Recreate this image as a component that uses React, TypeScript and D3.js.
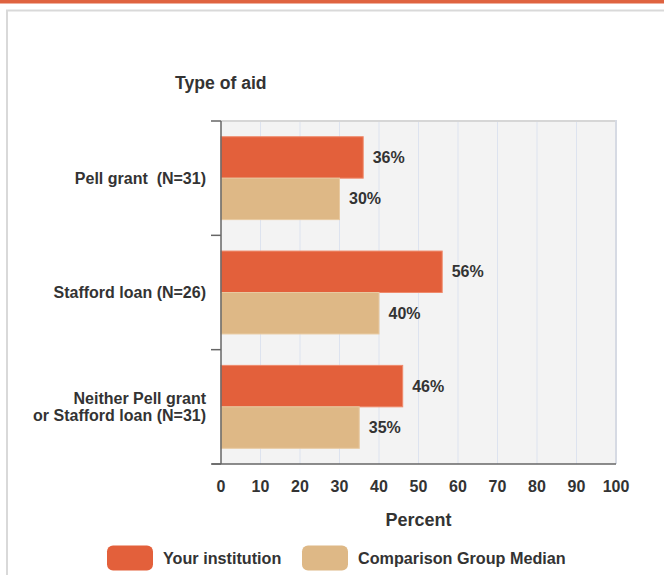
import React from 'react'
import { scaleLinear, scaleBand } from 'd3'

const categories = ['Pell grant  (N=31)', 'Stafford loan (N=26)', 'Neither Pell grant\nor Stafford loan (N=31)']
const seriesNames = ['Your institution', 'Comparison Group Median']
const yourInstitution = [36, 56, 46]
const comparisonMedian = [30, 40, 35]
const xTicks = [0, 10, 20, 30, 40, 50, 60, 70, 80, 90, 100]

const W = 664
const H = 575
const colors = ['#e3603b', '#deb886']
const font = '"Liberation Sans", Arial, sans-serif'
const textColor = '#333333'

const App = () => {
  const x = scaleLinear().domain([0, 100]).range([221, 616])
  const y = scaleBand<string>()
    .domain(categories)
    .range([121, 464])
    .paddingInner(0.275)
    .paddingOuter(0.1375)
  const inner = scaleBand<string>()
    .domain(seriesNames)
    .range([0, y.bandwidth()])
  const values = [yourInstitution, comparisonMedian]

  // band boundaries for the little y-axis ticks
  const step = y.step()
  const boundaries = categories.map((_, i) => 121 + i * step).concat([464])

  return (
    <div style={{ position: 'absolute', left: 0, top: 0 }}>
      <svg width={W} height={H} style={{ display: 'block', fontFamily: font, whiteSpace: 'pre' }}>
        <rect x={0} y={0} width={W} height={H} fill="#ffffff" />
        <rect x={0} y={0} width={W} height={3.5} fill="#df6340" />
        <rect x={7} y={10.5} width={720} height={620} fill="#ffffff" stroke="#d9d9d9" strokeWidth={2} />

        <text x={175} y={89} fontSize={17.6} fontWeight="bold" fill={textColor}>Type of aid</text>

        {/* plot background + grid */}
        <rect x={x(0)} y={121} width={x(100) - x(0)} height={464 - 121} fill="#f3f3f3" />
        {xTicks.slice(1, -1).map(t => (
          <line key={t} x1={x(t)} x2={x(t)} y1={121} y2={464} stroke="#dde3ef" strokeWidth={1} />
        ))}
        <line x1={x(0)} x2={x(100)} y1={121} y2={121} stroke="#d6d6d6" strokeWidth={2} />
        <line x1={x(100)} x2={x(100)} y1={120} y2={464} stroke="#d6dae3" strokeWidth={2} />

        {/* bars */}
        {categories.map((c, i) => (
          <g key={c}>
            {seriesNames.map((s, j) => {
              const v = values[j][i]
              const by = (y(c) || 0) + (inner(s) || 0)
              const bh = inner.bandwidth()
              return (
                <g key={s}>
                  <rect x={x(0)} y={by} width={x(v) - x(0)} height={bh} fill={colors[j]}
                    stroke={j === 0 ? '#ef8a6c' : '#e8c9a0'} strokeWidth={1} />
                  <text x={x(v) + 9.5} y={by + bh / 2} dy="0.35em" fontSize={16} fontWeight="bold" fill={textColor}>
                    {v}%
                  </text>
                </g>
              )
            })}
          </g>
        ))}

        {/* y axis */}
        <line x1={x(0)} x2={x(0)} y1={121} y2={464} stroke="#666666" strokeWidth={1.5} />
        {boundaries.map((b, i) => (
          <line key={i} x1={211} x2={x(0)} y1={b} y2={b} stroke="#666666" strokeWidth={1.5} />
        ))}
        {categories.map(c => {
          const lines = c.split('\n')
          const cy = (y(c) || 0) + y.bandwidth() / 2
          const lh = 17
          return (
            <text key={c} x={206} y={cy - ((lines.length - 1) * lh) / 2} textAnchor="end"
              fontSize={16} fontWeight="bold" fill={textColor} xmlSpace="preserve">
              {lines.map((l, k) => (
                <tspan key={k} x={206} dy={k === 0 ? '0.35em' : lh}>{l}</tspan>
              ))}
            </text>
          )
        })}

        {/* x axis */}
        <line x1={212} x2={x(100)} y1={464} y2={464} stroke="#666666" strokeWidth={1.5} />
        {xTicks.map(t => (
          <text key={t} x={x(t)} y={491.5} textAnchor="middle" fontSize={16} fontWeight="bold" fill={textColor}>{t}</text>
        ))}
        <text x={(x(0) + x(100)) / 2} y={525.5} textAnchor="middle" fontSize={18} fontWeight="bold" fill={textColor}>Percent</text>

        {/* legend */}
        {seriesNames.map((s, j) => {
          const lx = j === 0 ? 107 : 302
          return (
            <g key={s}>
              <rect x={lx} y={545.5} width={46} height={25} rx={6} fill={colors[j]} />
              <text x={lx + 56} y={563.5} fontSize={16.2} fontWeight="bold" fill={textColor}>{s}</text>
            </g>
          )
        })}
      </svg>
    </div>
  )
}

export default App
